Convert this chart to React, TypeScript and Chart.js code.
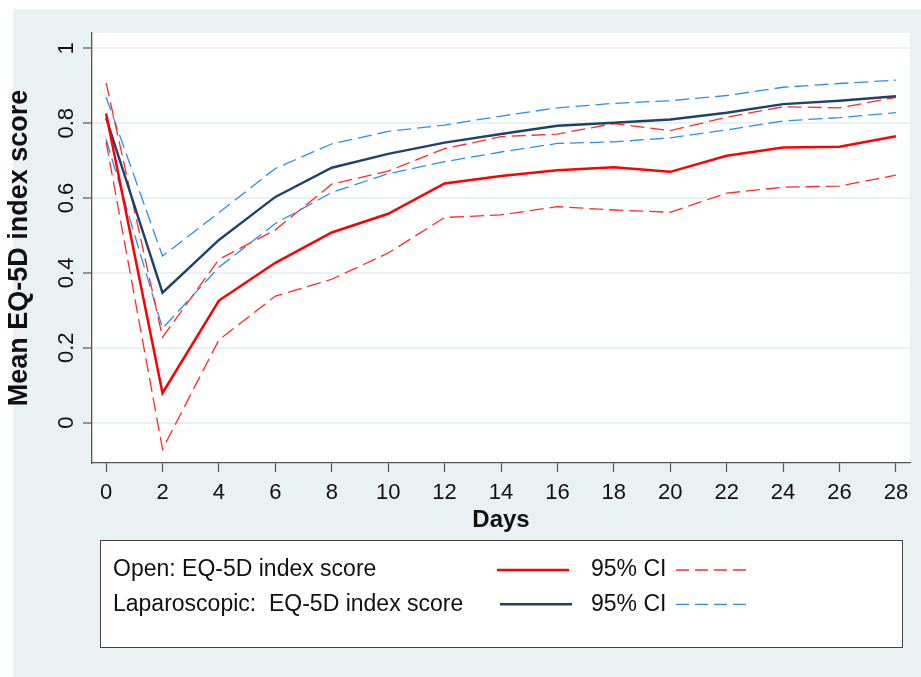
import React, { useEffect, useRef } from "react";
import { Chart, registerables } from "chart.js";

Chart.register(...registerables);

// ---- data ----
const days = [0, 2, 4, 6, 8, 10, 12, 14, 16, 18, 20, 22, 24, 26, 28];
const openMean = [0.826, 0.079, 0.326, 0.427, 0.508, 0.558, 0.639, 0.659, 0.674, 0.682, 0.670, 0.713, 0.735, 0.737, 0.765];
const openUpper = [0.908, 0.228, 0.436, 0.515, 0.637, 0.672, 0.732, 0.764, 0.771, 0.799, 0.780, 0.816, 0.844, 0.841, 0.869];
const openLower = [0.750, -0.071, 0.221, 0.338, 0.383, 0.453, 0.548, 0.555, 0.577, 0.568, 0.562, 0.613, 0.629, 0.632, 0.661];
const lapMean = [0.814, 0.347, 0.488, 0.603, 0.681, 0.718, 0.748, 0.771, 0.793, 0.801, 0.810, 0.828, 0.851, 0.860, 0.872];
const lapUpper = [0.870, 0.445, 0.561, 0.679, 0.745, 0.778, 0.795, 0.819, 0.841, 0.853, 0.860, 0.874, 0.896, 0.906, 0.915];
const lapLower = [0.757, 0.252, 0.415, 0.532, 0.615, 0.665, 0.697, 0.723, 0.746, 0.750, 0.761, 0.782, 0.806, 0.815, 0.828];

const yTickValues = [0, 0.2, 0.4, 0.6, 0.8, 1];
const yTickLabels = ["0", "0.2", "0.4", "0.6", "0.8", "1"];
const xTickValues = days;

const yTitle = "Mean EQ-5D index score";
const xTitle = "Days";
const legendOpenLabel = "Open: EQ-5D index score";
const legendLapLabel = "Laparoscopic:  EQ-5D index score";
const legendCILabel = "95% CI";

// ---- styles ----
const RED = "#ff0000";
const RED_CI = "#ff2a2a";
const NAVY = "#1f4368";
const BLUE_CI = "#2a8ff0";
const PANEL = "#eaf1f3";
const AXIS = "#555555";
const TEXT = "#111111";
const FONT = "'Liberation Sans', Arial, sans-serif";
const DASH = [14, 6];

const toPts = (vals: number[]) => days.map((d, i) => ({ x: d, y: vals[i] }));

const bgPlugin = {
  id: "bgPanel",
  beforeDraw(chart: any) {
    const { ctx, chartArea, width, height } = chart;
    ctx.save();
    ctx.fillStyle = "#ffffff";
    ctx.fillRect(0, 0, width, height);
    ctx.fillStyle = PANEL;
    ctx.fillRect(13, 9, width - 13, height - 9);
    ctx.fillStyle = "#ffffff";
    ctx.fillRect(chartArea.left, chartArea.top, chartArea.right - chartArea.left, chartArea.bottom - chartArea.top);
    ctx.restore();
  },
};

const yLabelPlugin = {
  id: "yLabels",
  afterDraw(chart: any) {
    const { ctx } = chart;
    const ys = chart.scales.y;
    ctx.save();
    ctx.fillStyle = TEXT;
    ctx.font = `22px ${FONT}`;
    ctx.textAlign = "center";
    ctx.textBaseline = "alphabetic";
    yTickValues.forEach((v, i) => {
      const py = ys.getPixelForValue(v);
      ctx.save();
      ctx.translate(ys.right - 19.5, py);
      ctx.rotate(-Math.PI / 2);
      ctx.fillText(yTickLabels[i], 0, 0);
      ctx.restore();
    });
    ctx.restore();
  },
};

const legendPlugin = {
  id: "customLegend",
  afterDraw(chart: any) {
    const { ctx } = chart;
    const ds = chart.data.datasets;
    ctx.save();
    ctx.fillStyle = "#ffffff";
    ctx.fillRect(100.5, 540.5, 802, 107);
    ctx.strokeStyle = "#444444";
    ctx.lineWidth = 1;
    ctx.strokeRect(100.5, 540.5, 802, 107);

    const rows = [
      { label: legendOpenLabel, solid: ds[0], dashed: ds[2], baseline: 576, lineY: 570, x0: 497 },
      { label: legendLapLabel, solid: ds[1], dashed: ds[4], baseline: 611, lineY: 604.3, x0: 500 },
    ];
    ctx.font = `23px ${FONT}`;
    ctx.textBaseline = "alphabetic";
    ctx.textAlign = "left";
    rows.forEach((r) => {
      ctx.fillStyle = TEXT;
      ctx.fillText(r.label, 113, r.baseline);
      ctx.fillText(legendCILabel, 591, r.baseline);
      ctx.setLineDash([]);
      ctx.strokeStyle = r.solid.borderColor;
      ctx.lineWidth = r.solid.borderWidth;
      ctx.beginPath();
      ctx.moveTo(r.x0, r.lineY);
      ctx.lineTo(r.x0 + 72, r.lineY);
      ctx.stroke();
      ctx.setLineDash([13, 6]);
      ctx.strokeStyle = r.dashed.borderColor;
      ctx.lineWidth = r.dashed.borderWidth;
      ctx.beginPath();
      ctx.moveTo(676, r.lineY);
      ctx.lineTo(747, r.lineY);
      ctx.stroke();
    });
    ctx.restore();
  },
};

export default function App() {
  const canvasRef = useRef<HTMLCanvasElement | null>(null);

  useEffect(() => {
    const canvas = canvasRef.current;
    if (!canvas) return;
    const chart = new Chart(canvas, {
      type: "line",
      data: {
        datasets: [
          { label: "Open: EQ-5D index score", data: toPts(openMean), borderColor: RED, borderWidth: 2.5, pointRadius: 0, tension: 0, fill: false },
          { label: "Laparoscopic: EQ-5D index score", data: toPts(lapMean), borderColor: NAVY, borderWidth: 2.4, pointRadius: 0, tension: 0, fill: false },
          { label: "Open 95% CI upper", data: toPts(openUpper), borderColor: RED_CI, borderWidth: 1.3, borderDash: DASH, pointRadius: 0, tension: 0, fill: false },
          { label: "Open 95% CI lower", data: toPts(openLower), borderColor: RED_CI, borderWidth: 1.3, borderDash: DASH, pointRadius: 0, tension: 0, fill: false },
          { label: "Lap 95% CI upper", data: toPts(lapUpper), borderColor: BLUE_CI, borderWidth: 1.3, borderDash: DASH, pointRadius: 0, tension: 0, fill: false },
          { label: "Lap 95% CI lower", data: toPts(lapLower), borderColor: BLUE_CI, borderWidth: 1.3, borderDash: DASH, pointRadius: 0, tension: 0, fill: false },
        ],
      },
      options: {
        responsive: false,
        animation: false,
        devicePixelRatio: 1,
        layout: { padding: { left: 0, top: 33, right: 11, bottom: 0 } },
        plugins: {
          legend: { display: false },
          tooltip: { enabled: false },
        },
        scales: {
          x: {
            type: "linear",
            min: -0.5,
            max: 28.5,
            afterBuildTicks: (scale: any) => {
              scale.ticks = xTickValues.map((v) => ({ value: v }));
            },
            afterFit: (scale: any) => {
              scale.height = 214;
            },
            ticks: {
              autoSkip: false,
              maxRotation: 0,
              minRotation: 0,
              padding: 8,
              color: TEXT,
              font: { family: FONT, size: 22 },
            },
            grid: {
              drawOnChartArea: false,
              drawTicks: true,
              tickLength: 9,
              tickColor: AXIS,
              tickWidth: 1.2,
            },
            border: { display: true, color: AXIS, width: 1.3 },
            title: {
              display: true,
              text: xTitle,
              color: TEXT,
              font: { family: FONT, size: 24, weight: "bold" },
              padding: { top: 0, bottom: 142 },
            },
          },
          y: {
            type: "linear",
            min: -0.108,
            max: 1.041,
            afterBuildTicks: (scale: any) => {
              scale.ticks = yTickValues.map((v) => ({ value: v }));
            },
            afterFit: (scale: any) => {
              scale.width = 92;
            },
            ticks: { display: false },
            grid: {
              color: PANEL,
              lineWidth: 2,
              drawTicks: true,
              tickLength: 9,
              tickColor: AXIS,
              tickWidth: 1.2,
            },
            border: { display: true, color: AXIS, width: 1.3 },
            title: {
              display: true,
              text: yTitle,
              color: TEXT,
              font: { family: FONT, size: 27, weight: "bold" },
              padding: { top: 3, bottom: 0 },
            },
          },
        },
      },
      plugins: [bgPlugin, yLabelPlugin, legendPlugin],
    } as any);
    return () => chart.destroy();
  }, []);

  return (
    <div style={{ position: "absolute", left: 0, top: 0, width: 921, height: 677 }}>
      <canvas ref={canvasRef} width={921} height={677} style={{ width: 921, height: 677, display: "block" }} />
    </div>
  );
}
